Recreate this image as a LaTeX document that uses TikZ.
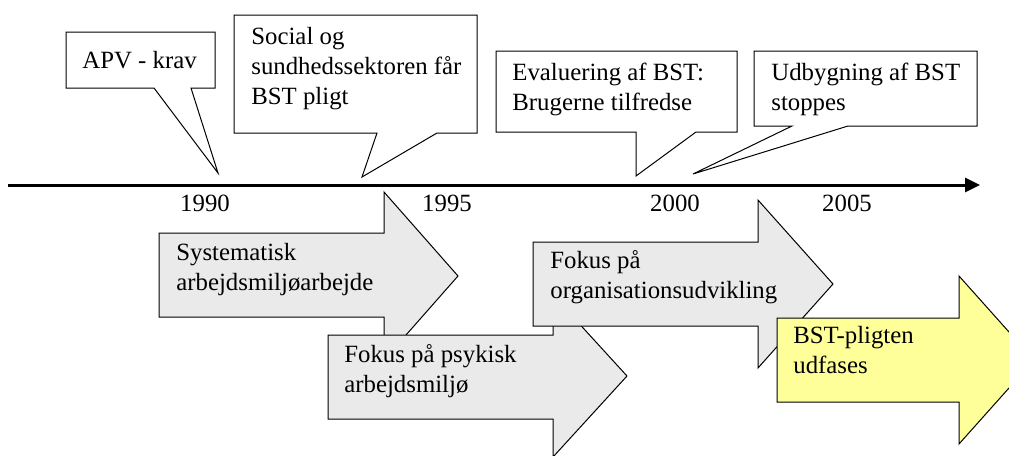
\documentclass[tikz,border=0pt]{standalone}
\usepackage{fontspec}
\setmainfont{Liberation Serif}
\usetikzlibrary{arrows.meta}
\definecolor{bandgray}{HTML}{EAEAEA}
\definecolor{bandyellow}{HTML}{FFFF99}
\tikzset{
  bubble/.style={draw=black, line width=0.5pt, fill=white, line join=miter},
  band/.style={draw=black, line width=0.5pt, fill=bandgray, line join=miter},
  % multi-line labels: anchored at the baseline of their last line
  label/.style={font=\fontsize{12.4}{15}\selectfont, align=left, inner sep=0pt, anchor=base west},
  yearlabel/.style={font=\fontsize{12.4}{15}\selectfont, inner sep=0pt, anchor=base},
  timeline/.style={line width=1.5pt, -{Triangle[length=7.5pt,width=7pt]}}
}
\begin{document}
\begin{tikzpicture}[x=0.5pt, y=-0.5pt]
  \useasboundingbox (0,0) rectangle (1009,456);
  \clip (0,0) rectangle (1009,456);

  % time axis
  \coordinate (axisstart) at (8,185);
  \coordinate (axisend) at (980,185);
  \draw[timeline] (axisstart) -- (axisend);
  \node[yearlabel] (y1990) at (205,211) {1990};
  \node[yearlabel] (y1995) at (447,211) {1995};
  \node[yearlabel] (y2000) at (675,211) {2000};
  \node[yearlabel] (y2005) at (847,211) {2005};

  % speech bubbles pointing at the axis
  \draw[bubble] (66,32) -- (215,32) -- (215,88) -- (191,88) -- (218,173)
    -- (154,88) -- (66,88) -- cycle;
  \node[label] (apv) at (82,68) {APV - krav};

  \draw[bubble] (234,15) -- (477,15) -- (477,133) -- (437,133) -- (362,177)
    -- (377,133) -- (234,133) -- cycle;
  \node[label] (social) at (251,104) {Social og\\sundhedssektoren får\\BST pligt};

  \draw[bubble] (496,51) -- (737,51) -- (737,132) -- (696,132) -- (636,176)
    -- (636,132) -- (496,132) -- cycle;
  \node[label] (evaluering) at (512,110) {Evaluering af BST:\\Brugerne tilfredse};

  \draw[bubble] (754,51) -- (977,51) -- (977,126) -- (848,126) -- (693,174)
    -- (792,126) -- (754,126) -- cycle;
  \node[label] (udbygning) at (771,110) {Udbygning af BST\\stoppes};

  % block arrows for the periods
  \draw[band] (159,233) -- (384,233) -- (384,192) -- (458,276) -- (384,360)
    -- (384,317) -- (159,317) -- cycle;
  \node[label] (systematisk) at (176,290) {Systematisk\\arbejdsmiljøarbejde};

  \draw[band] (328,335) -- (553,335) -- (553,295) -- (627,376) -- (553,457)
    -- (553,419) -- (328,419) -- cycle;
  \node[label] (psykisk) at (344,392) {Fokus på psykisk\\arbejdsmiljø};

  \draw[band] (533,242) -- (758,242) -- (758,200) -- (833,284) -- (758,368)
    -- (758,326) -- (533,326) -- cycle;
  \node[label] (organisation) at (550,298) {Fokus på\\organisationsudvikling};

  \draw[band, fill=bandyellow] (777,318) -- (959,318) -- (959,276) -- (1034,360)
    -- (959,444) -- (959,402) -- (777,402) -- cycle;
  \node[label] (udfases) at (793,373) {BST-pligten\\udfases};
\end{tikzpicture}
\end{document}
